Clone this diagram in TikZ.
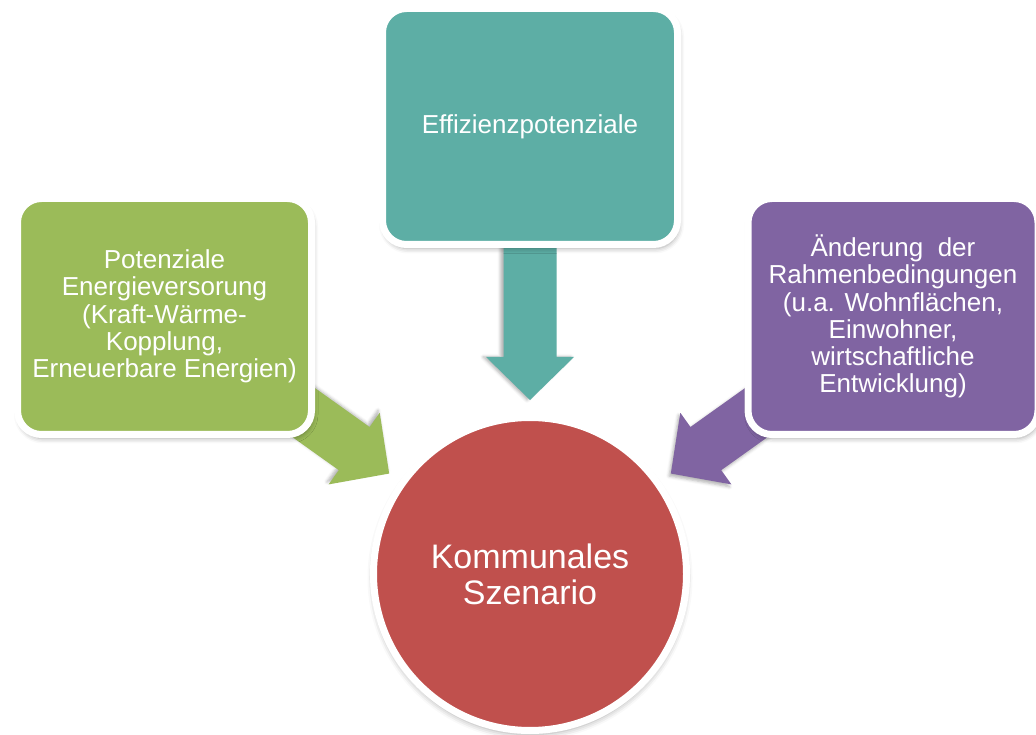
\documentclass[tikz,border=0pt]{standalone}
\usepackage{fontspec}
\setmainfont{Liberation Sans}
\usetikzlibrary{shadows.blur}
\definecolor{cgreen}{HTML}{9BBB59}
\definecolor{cteal}{HTML}{5DAEA5}
\definecolor{cpurple}{HTML}{8064A2}
\definecolor{cred}{HTML}{C0504D}
\begin{document}
\begin{tikzpicture}[x=1pt,y=1pt,
  box/.style={rectangle, rounded corners=24pt, draw=white, line width=7pt,
    minimum width=294pt, minimum height=236pt, inner sep=0pt, text=white,
    align=center, font=\fontsize{26}{27.3}\selectfont,
    blur shadow={shadow xshift=1.5pt, shadow yshift=-4pt, shadow blur radius=5pt, shadow opacity=35}},
  hub/.style={circle, draw=white, line width=7pt, minimum size=313pt, inner sep=0pt,
    text=white, align=center, font=\fontsize{34}{36}\selectfont,
    blur shadow={shadow xshift=0pt, shadow yshift=-4pt, shadow blur radius=6pt, shadow opacity=35}},
  arrowshape/.style={blur shadow={shadow blur radius=3pt, shadow opacity=30, #1}}]
\useasboundingbox (0,0) rectangle (1036,734);
\coordinate (C) at (530,160);
% block arrows (drawn first, boxes cover their tails)
\begin{scope}[shift={(C)}, rotate=144.5]
  \fill[cgreen, arrowshape={shadow xshift=-1.74pt, shadow yshift=2.44pt}]
    (330,26.5) -- (216,26.5) -- (216,44) -- (173,0) -- (216,-44) -- (216,-26.5) -- (330,-26.5) -- cycle;
\end{scope}
\begin{scope}[shift={(C)}, rotate=90]
  \fill[cteal, arrowshape={shadow xshift=-3pt, shadow yshift=0pt}]
    (380,26.5) -- (217,26.5) -- (217,44) -- (174,0) -- (217,-44) -- (217,-26.5) -- (380,-26.5) -- cycle;
\end{scope}
\begin{scope}[shift={(C)}, rotate=35.5]
  \fill[cpurple, arrowshape={shadow xshift=-1.74pt, shadow yshift=-2.44pt}]
    (330,26.5) -- (216,26.5) -- (216,44) -- (173,0) -- (216,-44) -- (216,-26.5) -- (330,-26.5) -- cycle;
\end{scope}
% boxes
\node[box, fill=cteal, minimum width=295pt] (eff) at (530,607.5) {Effizienzpotenziale};
\node[box, fill=cgreen] (pot) at (164.5,417.5)
  {Potenziale\\Energieversorung\\(Kraft-Wärme-\\Kopplung,\\Erneuerbare Energien)};
\node[box, fill=cpurple, minimum width=290pt] (aend) at (893,417.5)
  {Änderung~~der\\Rahmenbedingungen\\(u.a. Wohnflächen,\\Einwohner,\\wirtschaftliche\\Entwicklung)};
% central circle
\node[hub, fill=cred] (komm) at (C) {Kommunales\\Szenario};
\end{tikzpicture}
\end{document}
